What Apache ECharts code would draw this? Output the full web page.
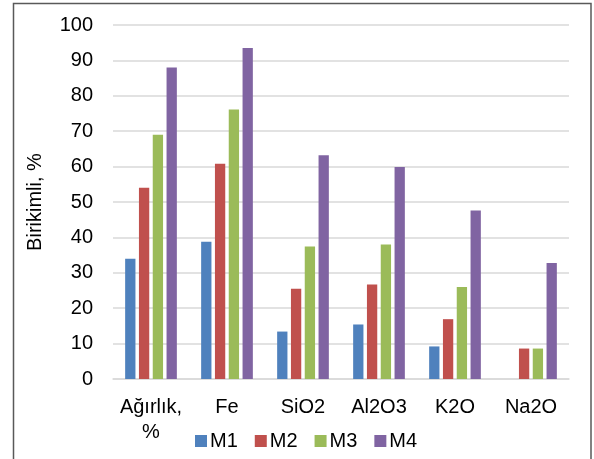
<!DOCTYPE html>
<html>
<head>
<meta charset="utf-8">
<script src="https://cdn.jsdelivr.net/npm/echarts@6/dist/echarts.min.js"></script>
<style>
  html, body { margin: 0; padding: 0; background: #fff; }
  #chart { width: 594px; height: 459px; }
</style>
</head>
<body>
<div id="chart"></div>
<script>
// Component categories and cumulative share for each sample (M1–M4)
const categories = ['Ağırlık,\n%', 'Fe', 'SiO2', 'Al2O3', 'K2O', 'Na2O'];
const seriesNames = ['M1', 'M2', 'M3', 'M4'];
const m1 = [34, 38.8, 13.4, 15.4, 9.2, 0];
const m2 = [54, 60.8, 25.5, 26.7, 16.9, 8.6];
const m3 = [69, 76.1, 37.4, 38, 26, 8.6];
const m4 = [88, 93.5, 63.2, 59.9, 47.6, 32.8];
const yTicks = [0, 10, 20, 30, 40, 50, 60, 70, 80, 90, 100];

const colors = ['#4F81BD', '#C0504D', '#9BBB59', '#8064A2'];
const values = [m1, m2, m3, m4];
const font = 'Liberation Sans, Arial, sans-serif';

const chart = echarts.init(document.getElementById('chart'), null, { renderer: 'canvas' });

chart.setOption({
  animation: false,
  backgroundColor: '#fff',
  color: colors,
  grid: { left: 113, right: 25, top: 25, bottom: 80, containLabel: false },
  legend: {
    data: seriesNames,
    left: 190,
    top: 426,
    itemWidth: 12,
    itemHeight: 12,
    itemGap: 17,
    icon: 'rect',
    textStyle: { fontFamily: font, fontSize: 20, color: '#000', padding: [0, 0, 0, -2] }
  },
  xAxis: {
    type: 'category',
    data: categories,
    axisLine: { show: true, lineStyle: { color: '#d9d9d9', width: 1.5 } },
    axisTick: { show: false },
    axisLabel: {
      interval: 0,
      margin: 16,
      fontFamily: font,
      fontSize: 20,
      color: '#000',
      lineHeight: 25
    }
  },
  yAxis: {
    type: 'value',
    min: yTicks[0],
    max: yTicks[yTicks.length - 1],
    interval: 10,
    name: 'Birikimli, %',
    nameLocation: 'middle',
    nameRotate: 90,
    nameGap: 68,
    nameTextStyle: { fontFamily: font, fontSize: 20, color: '#000' },
    axisLine: { show: false },
    axisTick: { show: false },
    axisLabel: { margin: 20, fontFamily: font, fontSize: 20, color: '#000' },
    splitLine: { lineStyle: { color: '#d9d9d9', width: 1.5 } }
  },
  series: seriesNames.map((name, i) => ({
    name: name,
    type: 'bar',
    data: values[i],
    barWidth: 10.3,
    barGap: '34%',
    itemStyle: { color: colors[i] }
  })),
  graphic: [{
    type: 'rect',
    shape: { x: 13.5, y: 3.5, width: 577.5, height: 470 },
    style: { fill: null, stroke: '#595959', lineWidth: 1.5 },
    silent: true,
    z: 100
  }]
});
</script>
</body>
</html>
